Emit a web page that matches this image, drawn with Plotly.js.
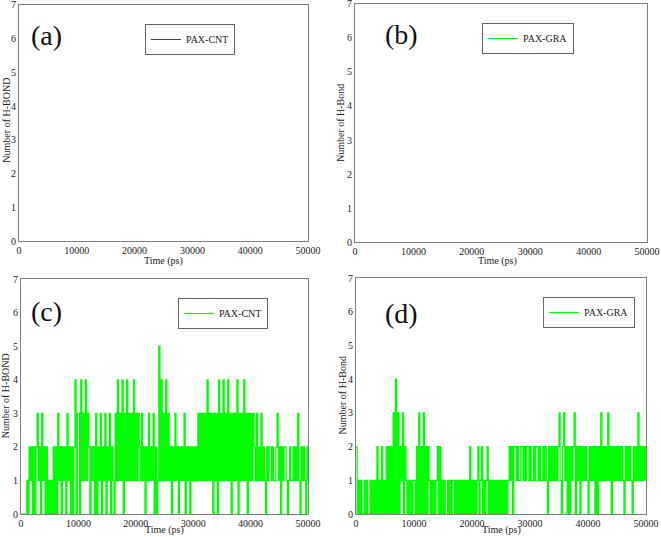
<!DOCTYPE html>
<html>
<head>
<meta charset="utf-8">
<script src="https://cdn.plot.ly/plotly-3.0.1.min.js"></script>
<style>
  html, body { margin: 0; padding: 0; background: #fff; }
  #hbondArea { width: 661px; height: 537px; }
</style>
</head>
<body>
<div id="hbondArea"></div>
<script>
// H-bond counts, one digit per 200 ps frame, in 10 ns blocks
let cntBlocks = [
    "00000102120202312031202010102020312021203120202403",
    "30413141320212030213021302130210314131403141313141",
    "31321312021312130201514131413120213120212130212021",
    "21213131313141313031304131413141303131403131413031",
    "313213121312102122121123120212210121121213102121021"
];
let graBlocks = [
    "20101001010010101020102010202020304030213021010101",
    "10203020302021010101202010100101011010101010101020",
    "10101201201012010101010101010101212022121122121221",
    "21121221211212102121212123102312020212302120212121",
    "021212020213121213120212121212102121210212131212121"
];
let frameStep = 200;   // ps
let xTicks = [0, 10000, 20000, 30000, 40000, 50000];
let xTickText = ["0", "10000", "20000", "30000", "40000", "50000"];
let yTicks = [0, 1, 2, 3, 4, 5, 6, 7];
let panelNames = ["(a)", "(b)", "(c)", "(d)"];
let yTitles = ["Number of H-BOND", "Number of H-Bond", "Number of H-BOND", "Number of H-Bond"];

let hbCnt = cntBlocks.join("").split("").map(Number);
let hbGra = graBlocks.join("").split("").map(Number);
let timeCnt = hbCnt.map((v, i) => i * frameStep);
let timeGra = hbGra.map((v, i) => i * frameStep);

let serif = "Liberation Serif";
let green = "rgb(0,255,0)";

// (a) and (b) are empty panels, only the legend shows
let traceA = {x: [null], y: [null], mode: "lines", type: "scatter", name: "PAX-CNT",
    line: {color: "#444", width: 1}, xaxis: "x", yaxis: "y", legend: "legend"};
let traceB = {x: [null], y: [null], mode: "lines", type: "scatter", name: "PAX-GRA",
    line: {color: green, width: 1}, xaxis: "x2", yaxis: "y2", legend: "legend2"};
let traceC = {x: timeCnt, y: hbCnt, mode: "lines", type: "scatter", name: "PAX-CNT",
    line: {color: green, width: 1.2, shape: "hv", simplify: false}, xaxis: "x3", yaxis: "y3", legend: "legend3"};
let traceD = {x: timeGra, y: hbGra, mode: "lines", type: "scatter", name: "PAX-GRA",
    line: {color: green, width: 1.2, shape: "hv", simplify: false}, xaxis: "x4", yaxis: "y4", legend: "legend4"};

function xAxis(dom, anchor) {
    return {
        domain: dom, anchor: anchor, range: [0, 50000], tickvals: xTicks, ticktext: xTickText,
        ticks: "", showgrid: false, zeroline: false, ticklabeloverflow: "allow",
        showline: true, mirror: true, linecolor: "#808080", linewidth: 1,
        tickfont: {family: serif, size: 10, color: "#222"},
        automargin: false
    };
}
function yAxis(dom, anchor) {
    return {
        domain: dom, anchor: anchor, range: [0, 7], tickvals: yTicks,
        ticks: "", showgrid: false, zeroline: false, ticklabeloverflow: "allow",
        showline: true, mirror: true, linecolor: "#808080", linewidth: 1,
        tickfont: {family: serif, size: 10, color: "#222"},
        automargin: false
    };
}
function legendAt(x, y) {
    return {x: x, y: y, xanchor: "right", yanchor: "top", xref: "paper", yref: "paper",
        bgcolor: "#fff", bordercolor: "#666", borderwidth: 1,
        font: {family: serif, size: 10, color: "#222"}, itemwidth: 30};
}

let annotations = [];
let labelPos = [[0.0711, 0.933], [0.608, 0.935], [0.0711, 0.419], [0.608, 0.417]];
let xTitlePos = [[0.2466, 0.5140], [0.7534, 0.5140], [0.249, 0.0130], [0.758, 0.0130]];
let yTitlePos = [[0.0085, 0.7765], [0.516, 0.771], [0.0095, 0.2626], [0.518, 0.2644]];
panelNames.forEach((p, i) => {
    annotations.push({text: p, x: labelPos[i][0], y: labelPos[i][1], xref: "paper", yref: "paper",
        xanchor: "center", yanchor: "middle", showarrow: false,
        font: {family: serif, size: 28, color: "#111"}});
    annotations.push({text: "Time (ps)", x: xTitlePos[i][0], y: xTitlePos[i][1], xref: "paper", yref: "paper",
        xanchor: "center", yanchor: "middle", showarrow: false,
        font: {family: serif, size: 10, color: "#222"}});
    annotations.push({text: yTitles[i], x: yTitlePos[i][0], y: yTitlePos[i][1], xref: "paper", yref: "paper",
        xanchor: "center", yanchor: "middle", showarrow: false, textangle: -90,
        font: {family: serif, size: 10, color: "#222"}});
});

let layout = {
    width: 661, height: 537,
    margin: {l: 0, r: 0, t: 0, b: 0},
    paper_bgcolor: "#fff", plot_bgcolor: "#fff",
    xaxis: xAxis([0.0287, 0.466], "y"),
    yaxis: yAxis([0.5512, 0.9907], "x"),
    xaxis2: xAxis([0.537, 0.979], "y2"),
    yaxis2: yAxis([0.5493, 0.9926], "x2"),
    xaxis3: xAxis([0.0318, 0.466], "y3"),
    yaxis3: yAxis([0.0428, 0.4804], "x3"),
    xaxis4: xAxis([0.5386, 0.9773], "y4"),
    yaxis4: yAxis([0.0428, 0.4823], "x4"),
    legend: legendAt(0.3555, 0.9553),
    legend2: legendAt(0.8684, 0.9572),
    legend3: legendAt(0.4054, 0.445),
    legend4: legendAt(0.9607, 0.4469),
    showlegend: true,
    annotations: annotations
};

Plotly.newPlot("hbondArea", [traceA, traceB, traceC, traceD], layout, {displayModeBar: false, staticPlot: true});
</script>
</body>
</html>
